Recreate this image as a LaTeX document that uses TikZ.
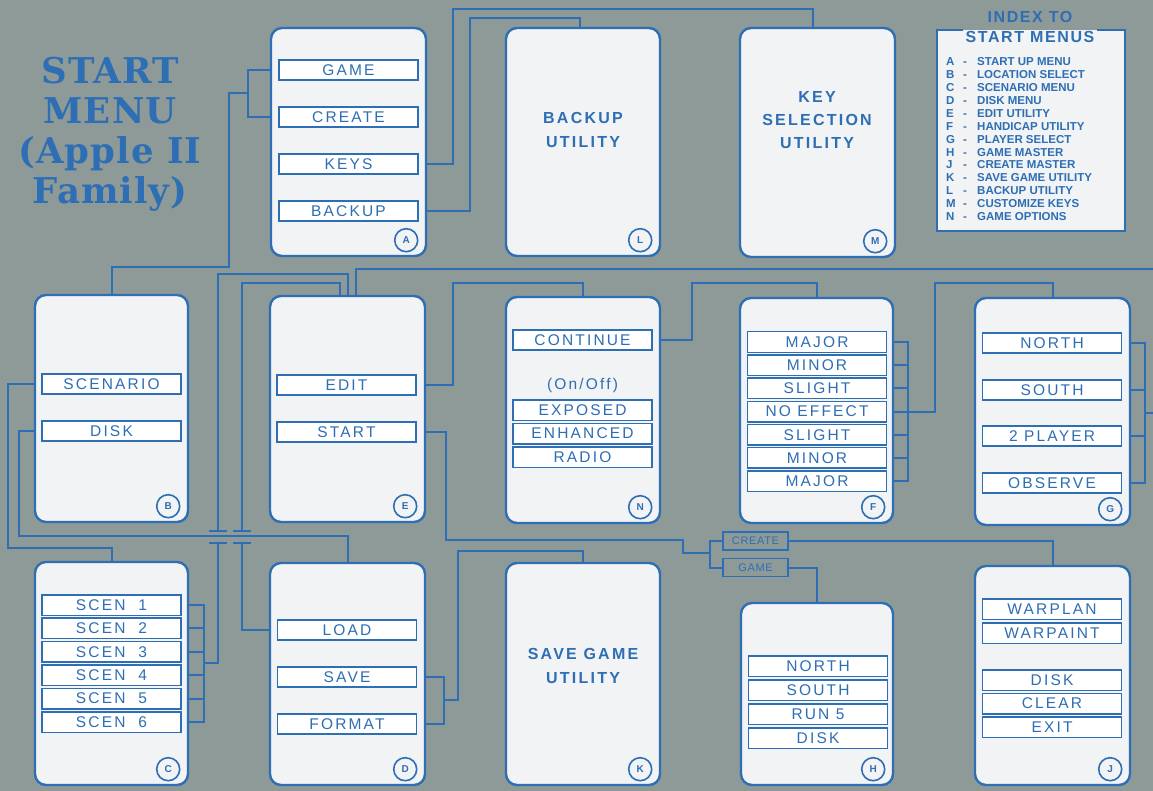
\documentclass[tikz,border=0pt]{standalone}
\usepackage{fontspec}
\setmainfont{Liberation Sans}
\newfontfamily\btnfont[LetterSpace=14]{Liberation Sans}
\newfontfamily\ttlfont[LetterSpace=3]{DejaVu Serif}
\newfontfamily\idxfont{Liberation Sans}
\newfontfamily\hdfont[LetterSpace=10]{Liberation Sans}
\newfontfamily\lblfont[LetterSpace=6]{Liberation Sans}
\definecolor{bg}{RGB}{141,154,152}
\definecolor{ink}{RGB}{46,110,180}
\definecolor{cardw}{RGB}{241,243,244}
\newcommand\idxrow[2]{\makebox[17pt][l]{#1}\makebox[14pt][l]{-}#2}
\begin{document}
\begin{tikzpicture}[x=1pt,y=-1pt,
 card/.style={draw=ink, line width=2.4pt, fill=cardw, rounded corners=11pt, inner sep=0pt},
 btn/.style={draw=ink, line width=1.5pt, fill=white, minimum width=139pt, minimum height=20pt, inner sep=0pt, text=ink, font=\btnfont\fontsize{15.5}{16}\selectfont},
 sbtn/.style={btn, minimum height=20.5pt},
 tag/.style={circle, draw=ink, line width=1.6pt, fill=cardw, minimum size=23pt, inner sep=0pt, text=ink, font=\idxfont\bfseries\fontsize{10}{10}\selectfont},
 conn/.style={draw=ink, line width=2pt},
 util/.style={text=ink, align=center, inner sep=0pt, font=\btnfont\bfseries\fontsize{16}{24}\selectfont},
 lbl/.style={draw=ink, line width=1.3pt, fill=bg, minimum width=65pt, minimum height=18pt, inner sep=0pt, text=ink, font=\lblfont\fontsize{11}{11}\selectfont}
]
\useasboundingbox (0,0) rectangle (1153,791);
\fill[bg] (0,0) rectangle (1153,791);

% title
\node[anchor=north, inner sep=0pt, align=center, text=ink, font=\ttlfont\bfseries\fontsize{35.5}{40}\selectfont] (title) at (110,57) {START\\MENU\\(Apple II\\Family)};

% index
\node[fill=cardw, minimum width=188pt, minimum height=201pt, inner sep=0pt, anchor=north west] (idx) at (937,30) {};
\draw[draw=ink, line width=2pt] ([xshift=26pt]idx.north west) -| (idx.south west) -| (idx.north east) -- ([xshift=-28pt]idx.north east);
\node[text=ink, inner sep=0pt, font=\hdfont\bfseries\fontsize{16}{16}\selectfont] (idxT1) at (1030,17) {INDEX TO};
\node[text=ink, inner sep=0pt, font=\hdfont\bfseries\fontsize{16}{16}\selectfont] (idxT2) at (1030,37) {START MENUS};
\node[anchor=north west, inner sep=0pt, align=left, text=ink, font=\idxfont\bfseries\fontsize{11.5}{12.9}\selectfont] (idxL) at (946,57.5) {%
\idxrow{A}{START UP MENU}\\
\idxrow{B}{LOCATION SELECT}\\
\idxrow{C}{SCENARIO MENU}\\
\idxrow{D}{DISK MENU}\\
\idxrow{E}{EDIT UTILITY}\\
\idxrow{F}{HANDICAP UTILITY}\\
\idxrow{G}{PLAYER SELECT}\\
\idxrow{H}{GAME MASTER}\\
\idxrow{J}{CREATE MASTER}\\
\idxrow{K}{SAVE GAME UTILITY}\\
\idxrow{L}{BACKUP UTILITY}\\
\idxrow{M}{CUSTOMIZE KEYS}\\
\idxrow{N}{GAME OPTIONS}};

% cards
\node[card, minimum width=155pt, minimum height=228pt] (A) at (348.5,142) {};
\node[card, minimum width=154pt, minimum height=228pt] (L) at (583,142) {};
\node[card, minimum width=155pt, minimum height=229pt] (M) at (817.5,142.5) {};
\node[card, minimum width=153pt, minimum height=227pt] (B) at (111.5,408.5) {};
\node[card, minimum width=155pt, minimum height=226pt] (E) at (347.5,409) {};
\node[card, minimum width=154pt, minimum height=226pt] (N) at (583,410) {};
\node[card, minimum width=153pt, minimum height=225pt] (F) at (816.5,410.5) {};
\node[card, minimum width=155pt, minimum height=227pt] (G) at (1052.5,411.5) {};
\node[card, minimum width=153pt, minimum height=223pt] (C) at (111.5,673.5) {};
\node[card, minimum width=155pt, minimum height=222pt] (D) at (347.5,674) {};
\node[card, minimum width=154pt, minimum height=222pt] (K) at (583,674) {};
\node[card, minimum width=152pt, minimum height=182pt] (H) at (817,694) {};
\node[card, minimum width=155pt, minimum height=219pt] (J) at (1052.5,675.5) {};

% tags
\foreach \c in {A,L,M,B,E,N,F,G,C,D,K,H,J}
  \node[tag] (t\c) at ([xshift=-21pt,yshift=17pt]\c.south east) {\c};

% utility texts
\node[util] (lTxt) at (583,130) {BACKUP\\UTILITY};
\node[util, font=\btnfont\bfseries\fontsize{16}{23}\selectfont] (mTxt) at (817,120) {KEY\\SELECTION\\UTILITY};
\node[util] (kTxt) at (583,666) {SAVE GAME\\UTILITY};

% buttons
\foreach \n/\t/\y in {aGame/GAME/70, aCreate/CREATE/117, aKeys/KEYS/164, aBackup/BACKUP/211}
  \node[btn] (\n) at (348.5,\y) {\t};
\node[btn] (bScen) at (111.5,384) {SCENARIO};
\node[btn] (bDisk) at (111.5,431) {DISK};
\node[btn] (eEdit) at (346.5,385) {EDIT};
\node[btn] (eStart) at (346.5,432) {START};
\node[btn] (nCont) at (582.5,340) {CONTINUE};
\node[text=ink, inner sep=0pt, font=\btnfont\fontsize{15.5}{16}\selectfont] (nOn) at (582.5,385) {(On/Off)};
\node[sbtn] (nExp) at (582.5,410) {EXPOSED};
\node[sbtn] (nEnh) at (582.5,433.5) {ENHANCED};
\node[sbtn] (nRad) at (582.5,457) {RADIO};
\foreach \t [count=\i] in {MAJOR,MINOR,SLIGHT,NO EFFECT,SLIGHT,MINOR,MAJOR}
  \node[sbtn] (f\i) at (817,{342+(\i-1)*23.17}) {\t};
\foreach \t/\y [count=\i] in {NORTH/343,SOUTH/390,2 PLAYER/436,OBSERVE/483}
  \node[btn] (g\i) at (1052,\y) {\t};
\foreach \t [count=\i] in {SCEN\ \ 1,SCEN\ \ 2,SCEN\ \ 3,SCEN\ \ 4,SCEN\ \ 5,SCEN\ \ 6}
  \node[sbtn] (c\i) at (111.5,{605+(\i-1)*23.4}) {\t};
\node[btn] (dLoad) at (347,630) {LOAD};
\node[btn] (dSave) at (347,677) {SAVE};
\node[btn] (dFormat) at (347,724) {FORMAT};
\foreach \t/\y [count=\i] in {NORTH/666,SOUTH/690,RUN 5/714,DISK/738}
  \node[sbtn] (h\i) at (818,\y) {\t};
\foreach \t/\y [count=\i] in {WARPLAN/609,WARPAINT/633,DISK/680,CLEAR/703.5,EXIT/727}
  \node[sbtn] (j\i) at (1052,\y) {\t};

% create/game labels
\node[lbl] (crt) at (755.5,541) {CREATE};
\node[lbl] (gme) at (755.5,567.5) {GAME};

% connectors: A
\draw[conn] (A.west |- aGame) -| (248,117) -- (A.west |- aCreate);
\draw[conn] (248,93) -| (229,267) -| (B.north);
\draw[conn] (A.east |- aKeys) -| (453,9) -| ([xshift=-5pt]M.north);
\draw[conn] (A.east |- aBackup) -| (470,18) -| ([xshift=-3pt]L.north);

% long line from E to right edge
\draw[conn] ([xshift=8pt]E.north) |- (1153,269);

% B
\draw[conn] (B.west |- bScen) -| (8,548) -| (C.north);
\draw[conn] (B.west |- bDisk) -| (19,536) -| (D.north);

% C bracket -> E
\draw[conn] (C.east |- c1) -- ++(15,0) |- (C.east |- c6);
\foreach \i in {2,...,5} \draw[conn] (C.east |- c\i) -- ++(15,0);
\draw[conn] ([xshift=15pt]C.east |- 0,663) -| (218,543) (218,531) |- (347.5,274) -- (E.north);
\draw[conn] (209,531) -- (227,531) (209,543) -- (227,543);

% D load -> E
\draw[conn] (D.west |- dLoad) -| (242,543) (242,531) |- (339.5,283) -- ([xshift=-8pt]E.north);
\draw[conn] (233,531) -- (251,531) (233,543) -- (251,543);

% D save/format -> K
\draw[conn] (D.east |- dSave) -- ++(18,0) |- (D.east |- dFormat);
\draw[conn] ([xshift=18pt]D.east |- 0,700) -| (458,551) -| (K.north);

% E
\draw[conn] (E.east |- eEdit) -| (453,283) -| (N.north);
\draw[conn] (E.east |- eStart) -| (446,540) -| (683,553) -- (711,553);
\draw[conn] (crt.west) -- ++(-12,0) |- (gme.west);
\draw[conn] (crt.east) -| (J.north);
\draw[conn] (gme.east) -| (H.north);

% N -> F
\draw[conn] (N.east |- nCont) -| (692,283) -| (F.north);

% F bracket -> G
\draw[conn] (F.east |- f1) -- ++(14,0) |- (F.east |- f7);
\foreach \i in {2,...,6} \draw[conn] (F.east |- f\i) -- ++(14,0);
\draw[conn] ([xshift=14pt]F.east |- f4) -| (935,283) -| (G.north);

% G bracket -> right edge
\draw[conn] (G.east |- g1) -- ++(14,0) |- (G.east |- g4);
\foreach \i in {2,3} \draw[conn] (G.east |- g\i) -- ++(14,0);
\draw[conn] ([xshift=14pt]G.east |- 0,413) -- (1153,413);
\end{tikzpicture}
\end{document}
